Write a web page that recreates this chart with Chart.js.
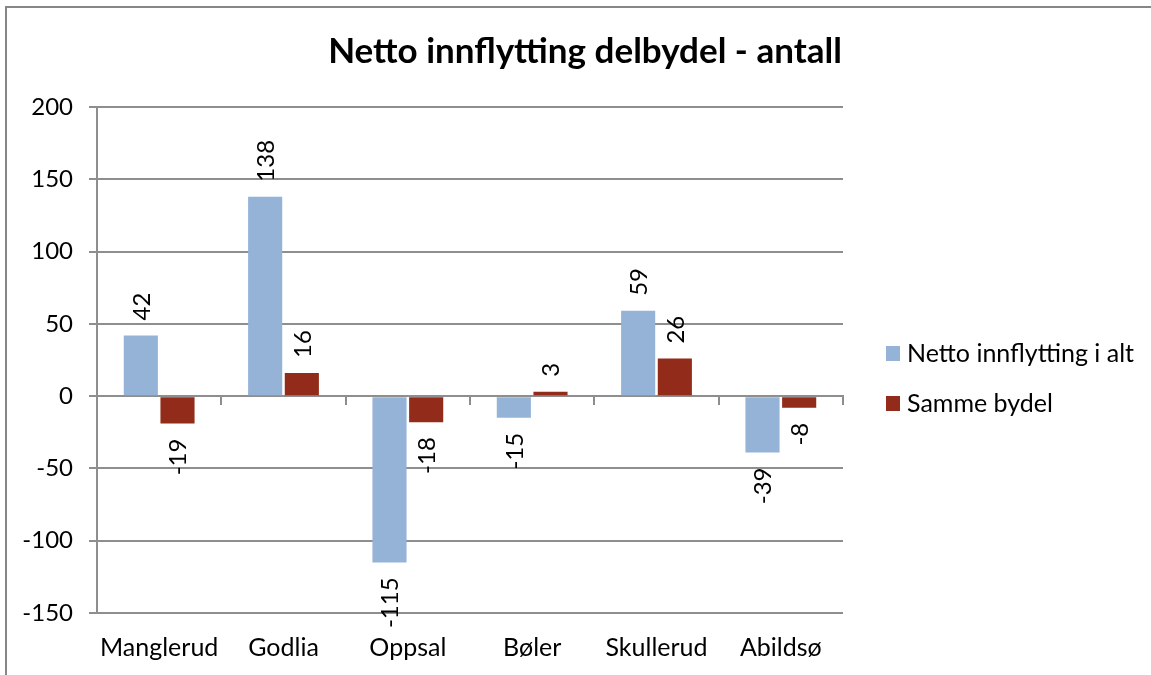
<!DOCTYPE html>
<html>
<head>
<meta charset="utf-8">
<script src="https://cdn.jsdelivr.net/npm/chart.js@4.4.1/dist/chart.umd.min.js"></script>
<style>
  body { margin: 0; background: #fff; }
  #wrap { position: relative; width: 1151px; height: 675px; }
</style>
</head>
<body>
<div id="wrap"><canvas id="chart" width="1151" height="675"></canvas></div>
<script>
const labels = ["Manglerud", "Godlia", "Oppsal", "Bøler", "Skullerud", "Abildsø"];
const nettoAlt = [42, 138, -115, -15, 59, -39];
const sammeBydel = [-19, 16, -18, 3, 26, -8];
const seriesNames = ["Netto innflytting i alt", "Samme bydel"];
const yTicks = { min: -150, max: 200, step: 50 };
const titleText = "Netto innflytting delbydel - antall";

const fontName = "Lato, 'Open Sans', sans-serif";
const gridGrey = "#8e8e8e";

// rotated value labels above / below each bar
const valueLabels = {
  id: "valueLabels",
  afterDatasetsDraw(chart) {
    const ctx = chart.ctx;
    ctx.save();
    ctx.font = "24px " + fontName;
    ctx.fillStyle = "#000";
    ctx.textBaseline = "middle";
    chart.data.datasets.forEach((ds, i) => {
      const meta = chart.getDatasetMeta(i);
      meta.data.forEach((bar, j) => {
        const v = ds.data[j];
        ctx.save();
        ctx.translate(bar.x + 1, bar.y + (v >= 0 ? -15 : 15));
        ctx.rotate(-Math.PI / 2);
        ctx.textAlign = v >= 0 ? "left" : "right";
        ctx.fillText(String(v), 0, 0);
        ctx.restore();
      });
    });
    ctx.restore();
  }
};

// frame, title and legend the way the sheet shows them
const decor = {
  id: "decor",
  beforeDraw(chart) {
    const ctx = chart.ctx;
    ctx.save();
    ctx.fillStyle = "#fff";
    ctx.fillRect(0, 0, chart.width, chart.height);
    ctx.strokeStyle = "#878787";
    ctx.lineWidth = 2;
    ctx.beginPath();
    ctx.moveTo(6, chart.height);
    ctx.lineTo(6, 7);
    ctx.lineTo(chart.width, 7);
    ctx.stroke();
    ctx.restore();
  },
  afterDraw(chart) {
    const ctx = chart.ctx;
    ctx.save();
    ctx.fillStyle = "#000";
    ctx.font = "bold 35px " + fontName;
    ctx.textAlign = "center";
    ctx.textBaseline = "middle";
    ctx.fillText(titleText, 585, 52);

    ctx.font = "25px " + fontName;
    ctx.textAlign = "left";
    chart.data.datasets.forEach((ds, i) => {
      const y = 354 + i * 50;
      ctx.fillStyle = ds.backgroundColor;
      ctx.fillRect(886, y - 8, 14, 15);
      ctx.fillStyle = "#000";
      ctx.fillText(ds.label, 907, y);
    });
    ctx.restore();
  }
};

new Chart(document.getElementById("chart"), {
  type: "bar",
  data: {
    labels: labels,
    datasets: [
      {
        label: seriesNames[0],
        data: nettoAlt,
        backgroundColor: "#95b3d7",
        categoryPercentage: 0.59,
        barPercentage: 0.93
      },
      {
        label: seriesNames[1],
        data: sammeBydel,
        backgroundColor: "#922b19",
        categoryPercentage: 0.59,
        barPercentage: 0.93
      }
    ]
  },
  options: {
    responsive: false,
    animation: false,
    layout: { padding: { top: 107, right: 308, left: 0, bottom: 0 } },
    plugins: {
      legend: { display: false },
      title: { display: false },
      tooltip: { enabled: false }
    },
    scales: {
      x: {
        grid: { display: false, drawTicks: false },
        border: { display: false },
        ticks: {
          color: "#000", font: { family: fontName, size: 25 }, padding: 20,
          maxRotation: 0, minRotation: 0, autoSkip: false
        },
        afterFit(scale) { scale.height = 62; }
      },
      x0: {
        type: "category",
        axis: "x",
        position: { y: 0 },
        offset: true,
        grid: { offset: true, drawOnChartArea: false, tickLength: 8, color: gridGrey, lineWidth: 2 },
        border: { display: true, color: gridGrey, width: 2 },
        ticks: { display: false }
      },
      y: {
        min: yTicks.min,
        max: yTicks.max,
        ticks: { stepSize: yTicks.step, color: "#000", font: { family: fontName, size: 24 }, padding: 16 },
        grid: { color: gridGrey, lineWidth: 2, tickLength: 8 },
        border: { display: true, color: gridGrey, width: 2 },
        afterFit(scale) { scale.width = 97; }
      }
    }
  },
  plugins: [decor, valueLabels]
});
</script>
</body>
</html>
